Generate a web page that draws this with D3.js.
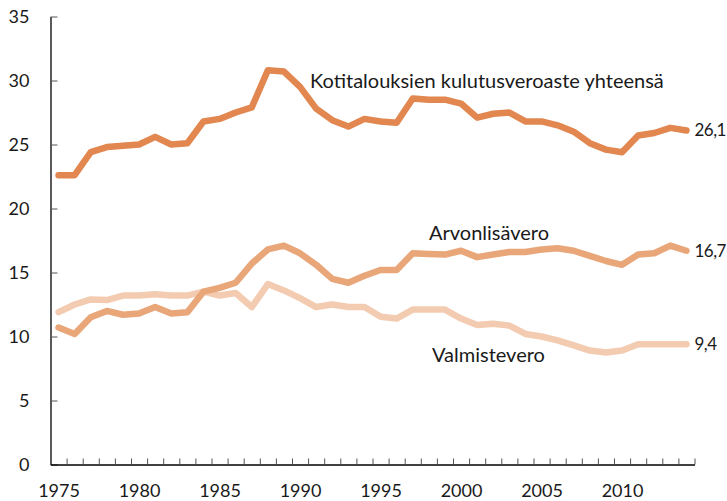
<!DOCTYPE html>
<html>
<head>
<meta charset="utf-8">
<script src="https://cdn.jsdelivr.net/npm/d3@7"></script>
<style>
  body { margin: 0; background: #fff; }
  text { font-family: Lato, "Open Sans", sans-serif; fill: #1a1a1a; }
</style>
</head>
<body>
<svg id="chart" width="727" height="501"></svg>
<script>
const years = d3.range(1975, 2015);

// Kotitalouksien kulutusveroaste yhteensä
const total = [22.6, 22.6, 24.4, 24.8, 24.9, 25.0, 25.6, 25.0, 25.1, 26.8,
               27.0, 27.5, 27.9, 30.8, 30.7, 29.5, 27.8, 26.9, 26.4, 27.0,
               26.8, 26.7, 28.6, 28.5, 28.5, 28.2, 27.1, 27.4, 27.5, 26.8,
               26.8, 26.5, 26.0, 25.1, 24.6, 24.4, 25.7, 25.9, 26.3, 26.1];
// Arvonlisävero
const vat = [10.7, 10.2, 11.5, 12.0, 11.7, 11.8, 12.3, 11.8, 11.9, 13.5,
             13.8, 14.2, 15.7, 16.8, 17.1, 16.5, 15.6, 14.5, 14.2, 14.75,
             15.2, 15.2, 16.5, 16.45, 16.4, 16.7, 16.2, 16.4, 16.6, 16.6,
             16.8, 16.9, 16.7, 16.3, 15.9, 15.6, 16.4, 16.5, 17.1, 16.7];
// Valmistevero
const excise = [11.9, 12.5, 12.9, 12.85, 13.2, 13.2, 13.3, 13.2, 13.2, 13.5,
                13.2, 13.4, 12.3, 14.1, 13.6, 13.0, 12.3, 12.5, 12.3, 12.3,
                11.55, 11.4, 12.1, 12.1, 12.1, 11.4, 10.9, 11.0, 10.85, 10.2,
                10.0, 9.7, 9.3, 8.9, 8.75, 8.9, 9.4, 9.4, 9.4, 9.4];

const yTicks = [0, 5, 10, 15, 20, 25, 30, 35];
const xLabels = [1975, 1980, 1985, 1990, 1995, 2000, 2005, 2010];

const series = [
  {values: excise, color: "#f3cbb0", name: "Valmistevero", end: "9,4", lx: 432, ly: 362},
  {values: vat, color: "#e8a679", name: "Arvonlisävero", end: "16,7", lx: 429, ly: 240},
  {values: total, color: "#e1874f", name: "Kotitalouksien kulutusveroaste yhteensä", end: "26,1", lx: 310, ly: 88}
];

const svg = d3.select("#chart");

const x = d3.scaleLinear().domain([1974.5, 2014.5]).range([50.5, 694.5]);
const y = d3.scaleLinear().domain([0, 35]).range([464.5, 16.5]);

// y axis
const yAxis = svg.append("g")
  .attr("transform", "translate(50.5,0)")
  .call(d3.axisLeft(y).tickValues(yTicks).tickSizeInner(-7).tickSizeOuter(0).tickPadding(21));
yAxis.select(".domain").attr("stroke", "#000").attr("stroke-width", 1.3);
yAxis.selectAll(".tick line").attr("stroke", "#555");
yAxis.selectAll("text").style("font-size", "18px").attr("fill", "#1a1a1a");

// x axis: ticks between years
const xAxis = svg.append("g")
  .attr("transform", "translate(0,464.5)")
  .call(d3.axisBottom(x).tickValues(years.map(d => d + 0.5)).tickSizeInner(-6).tickSizeOuter(0).tickFormat(""));
xAxis.select(".domain").attr("stroke", "#000").attr("stroke-width", 1.3);
xAxis.selectAll(".tick line").attr("stroke", "#555");

// x labels
const xLab = svg.append("g")
  .attr("transform", "translate(0,464.5)")
  .call(d3.axisBottom(x).tickValues(xLabels).tickSize(0).tickPadding(20).tickFormat(d3.format("d")));
xLab.select(".domain").remove();
xLab.selectAll("text").style("font-size", "18px").attr("fill", "#1a1a1a");

// lines
const line = d3.line()
  .x((d, i) => x(years[i]))
  .y(d => y(d));

svg.append("g")
  .selectAll("path")
  .data(series)
  .join("path")
  .attr("d", d => line(d.values))
  .attr("fill", "none")
  .attr("stroke", d => d.color)
  .attr("stroke-width", 6.5)
  .attr("stroke-linejoin", "round")
  .attr("stroke-linecap", "round");

// series names
svg.append("g")
  .selectAll("text")
  .data(series)
  .join("text")
  .attr("x", d => d.lx)
  .attr("y", d => d.ly)
  .style("font-size", "20px")
  .text(d => d.name);

// end values
svg.append("g")
  .selectAll("text")
  .data(series)
  .join("text")
  .attr("x", x(2014) + 8)
  .attr("y", d => y(d.values[d.values.length - 1]) + 1.5)
  .attr("dominant-baseline", "middle")
  .style("font-size", "17px")
  .style("letter-spacing", "-0.5px")
  .text(d => d.end);
</script>
</body>
</html>
